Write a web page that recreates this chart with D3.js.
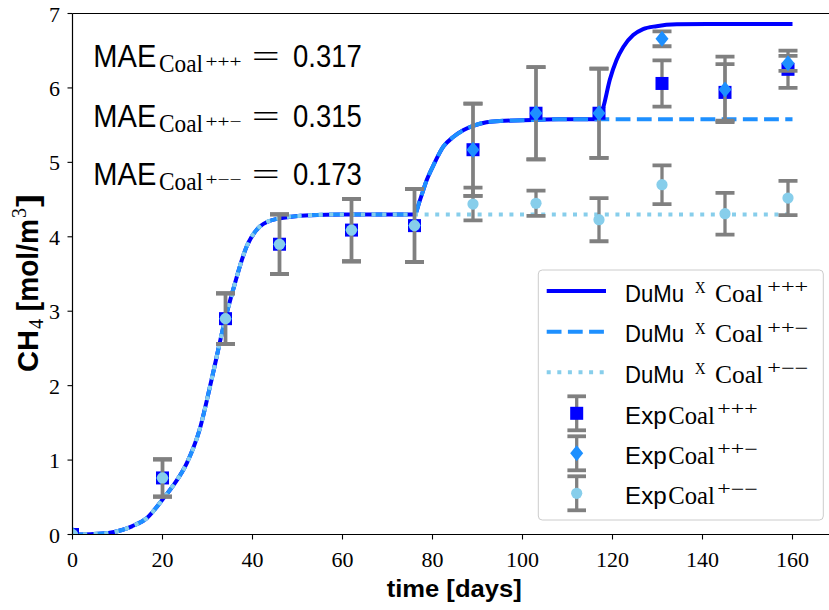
<!DOCTYPE html>
<html><head><meta charset="utf-8">
<script src="https://cdn.jsdelivr.net/npm/d3@7"></script>
<style>body{margin:0;background:#fff}svg{display:block}</style>
</head><body><svg id="c" width="829" height="610"></svg>
<script>
// ---------- data ----------
// simulated curve pieces [time (days), CH4 (mol/m3)]
const riseA = [[0,0],[4,0.005],[8,0.02],[11,0.06],[13.2,0.11],[16.5,0.22],[20,0.47],[22.4,0.66],[25.4,0.96],[28.2,1.40],[30.9,2.08],[34,2.91],[35.7,3.29],[38.7,3.87],[41.7,4.14],[45.4,4.24],[52.8,4.29],[60,4.30],[76,4.30]];
const riseB = [[77.2,4.49],[78.7,4.76],[80.2,4.96],[82.4,5.21],[84.6,5.34],[86.8,5.43],[89,5.49],[92,5.54],[95,5.555],[102.3,5.57],[108,5.58],[117,5.58]];
const riseC = [[118,5.75],[119.4,6.11],[120.9,6.375],[122.4,6.55],[124.6,6.71],[126.8,6.79],[129.8,6.83],[134.3,6.855],[141,6.86],[160,6.86]];
const endB = [[160,5.58]];
const endA = [[160,4.30]];

const expTime = [0,20,34,46,62,76,89,103,117,131,145,159];
const expPPP  = [0,0.76,2.90,3.90,4.09,4.15,5.17,5.66,5.66,6.06,5.94,6.25];
const errPPP  = [0,0.25,0.34,0.40,0.42,0.49,0.62,0.62,0.60,0.31,0.38,0.25];
const expPPM  = [0,0.76,2.90,3.90,4.09,4.15,5.17,5.66,5.66,6.66,5.98,6.33];
const errPPM  = [0,0.25,0.34,0.40,0.42,0.49,0.62,0.62,0.60,0.10,0.44,0.10];
const expPMM  = [0,0.76,2.90,3.90,4.09,4.15,4.44,4.45,4.23,4.70,4.31,4.52];
const errPMM  = [0,0.25,0.34,0.40,0.42,0.49,0.22,0.17,0.29,0.26,0.28,0.23];

const maeLabels = ["+++","++\u2212","+\u2212\u2212"];
const maeValues = ["0.317","0.315","0.173"];
const xTicks = [0,20,40,60,80,100,120,140,160];
const yTicks = [0,1,2,3,4,5,6,7];

const simPPP = riseA.concat(riseB, riseC);
const simPPM = riseA.concat(riseB, endB);
const simPMM = riseA.concat(endA);

// ---------- setup ----------
const SANS = "'Liberation Sans', Arial, sans-serif";
const SERIF = "'Liberation Serif', 'Times New Roman', serif";
const svg = d3.select('#c');
const L = 72.5, R = 828.5, T = 13.5, B = 534.5;
const x = d3.scaleLinear().domain([0,168]).range([L,R]);
const y = d3.scaleLinear().domain([0,7]).range([B,T]);

svg.append('defs').append('clipPath').attr('id','clip')
  .append('rect').attr('x',L).attr('y',T).attr('width',R-L).attr('height',B-T);

function rich(parent, pieces, x0, y0){
  let cx = x0;
  pieces.forEach(p => {
    const px = p.x !== undefined ? p.x : cx + (p.gap||0);
    const t = parent.append('text').attr('x',px).attr('y',y0+(p.dy||0)).text(p.t)
      .attr('font-family',p.f).attr('font-size',p.s).attr('font-weight',p.w||'normal').attr('fill','#000');
    if (p.len) t.attr('textLength',p.len).attr('lengthAdjust','spacingAndGlyphs');
    const len = p.len || t.node().getComputedTextLength();
    cx = px + len;
  });
  return cx - x0;
}

const plot = svg.append('g').attr('clip-path','url(#clip)');
const line = d3.line().x(d=>x(d[0])).y(d=>y(d[1])).curve(d3.curveMonotoneX);

const simSeries = [
  {d:simPPP, c:'#0000ff', dash:null},
  {d:simPPM, c:'#1e90ff', dash:'14.8,6.4'},
  {d:simPMM, c:'#87ceeb', dash:'4,6.6'}
];
simSeries.forEach(s => {
  plot.append('path').attr('d', line(s.d)).attr('fill','none').attr('stroke',s.c)
    .attr('stroke-width',4).attr('stroke-dasharray',s.dash);
});

function marker(g, type, cx, cy, color){
  if (type==='s') g.append('rect').attr('x',cx-6.5).attr('y',cy-6.5).attr('width',13).attr('height',13).attr('fill',color);
  else if (type==='d') g.append('path').attr('d',`M${cx},${cy-8}L${cx+6.5},${cy}L${cx},${cy+8}L${cx-6.5},${cy}Z`).attr('fill',color);
  else g.append('circle').attr('cx',cx).attr('cy',cy).attr('r',5.6).attr('fill',color);
}
function errbar(g, cx, y1, y2, hw){
  g.append('line').attr('x1',cx).attr('x2',cx).attr('y1',y1).attr('y2',y2).attr('stroke','#808080').attr('stroke-width',3.3);
  [y1,y2].forEach(yy => g.append('line').attr('x1',cx-hw).attr('x2',cx+hw).attr('y1',yy).attr('y2',yy).attr('stroke','#808080').attr('stroke-width',3.8));
}

const expSeries = [
  {v:expPPP, e:errPPP, m:'s', c:'#0000ff'},
  {v:expPPM, e:errPPM, m:'d', c:'#1e90ff'},
  {v:expPMM, e:errPMM, m:'o', c:'#87ceeb'}
];
expSeries.forEach(s => {
  const g = plot.append('g');
  expTime.forEach((t,i) => {
    if (s.e[i] > 0) errbar(g, x(t), y(s.v[i]-s.e[i]), y(s.v[i]+s.e[i]), 9.5);
    marker(g, s.m, x(t), y(s.v[i]), s.c);
  });
});

// ---------- axes ----------
const ax = svg.append('g');
ax.append('line').attr('x1',L).attr('x2',L).attr('y1',T).attr('y2',B).attr('stroke','#000').attr('stroke-width',1.2);
ax.append('line').attr('x1',L).attr('x2',R+1).attr('y1',B).attr('y2',B).attr('stroke','#000').attr('stroke-width',1.2);
ax.append('line').attr('x1',L).attr('x2',R+1).attr('y1',T).attr('y2',T).attr('stroke','#000').attr('stroke-width',1.2);
xTicks.forEach(t => {
  ax.append('line').attr('x1',x(t)).attr('x2',x(t)).attr('y1',B).attr('y2',B+5).attr('stroke','#000').attr('stroke-width',1.1);
  ax.append('text').attr('x',x(t)).attr('y',566.5).attr('text-anchor','middle')
    .attr('font-family',SERIF).attr('font-size',22).text(t);
});
yTicks.forEach(t => {
  ax.append('line').attr('x1',L-5).attr('x2',L).attr('y1',y(t)).attr('y2',y(t)).attr('stroke','#000').attr('stroke-width',1.1);
  ax.append('text').attr('x',60).attr('y',y(t)+8).attr('text-anchor','end')
    .attr('font-family',SERIF).attr('font-size',22).text(t);
});
// x label
rich(svg, [{t:'time [days]', f:SANS, s:24, w:'bold', x:386.7, len:135}], 0, 597);
// y label (rotated)
const yl = svg.append('g').attr('transform','translate(38.3,372) rotate(-90)');
rich(yl, [
  {t:'CH', f:SANS, s:29, w:'bold', x:0, len:42},
  {t:'4', f:SERIF, s:20, dy:5, gap:1, len:10},
  {t:'\u00a0[mol/m', f:SANS, s:29, w:'bold', gap:0, len:100},
  {t:'3', f:SERIF, s:20, dy:-12, gap:1, len:10},
  {t:']', f:SANS, s:29, w:'bold', gap:1, len:13}
], 0, 0);

// ---------- MAE annotations ----------
const maeBase = [66.7,126.7,185];
maeBase.forEach((b,i) => {
  rich(svg, [
    {t:'MAE', f:SANS, s:31, x:93.3, len:63},
    {t:'Coal', f:SERIF, s:25, x:159, dy:5, len:44},
    {t:maeLabels[i], f:SERIF, s:17, x:205.5, dy:0, len:36},
    {t:'=', f:SERIF, s:31, x:251.7, len:28},
    {t:maeValues[i], f:SANS, s:31, x:293, len:68.7}
  ], 0, b);
});

// ---------- legend ----------
const lg = svg.append('g');
lg.append('rect').attr('x',538.3).attr('y',270).attr('width',285).attr('height',250).attr('rx',4)
  .attr('fill','#fff').attr('fill-opacity',0.8).attr('stroke','#cccccc').attr('stroke-width',1);
const rowsY = [291,331.7,372.3,413.3,453.3,493.3];
simSeries.forEach((s,i) => {
  const cy = rowsY[i];
  lg.append('line').attr('x1',546.7).attr('x2',606).attr('y1',cy).attr('y2',cy)
    .attr('stroke',s.c).attr('stroke-width',4).attr('stroke-dasharray',s.dash);
  rich(lg, [
    {t:'DuMu', f:SANS, s:24, x:625, len:59},
    {t:'X', f:SERIF, s:17, x:695, dy:-8.4, len:10.5},
    {t:'Coal', f:SERIF, s:26, x:715, len:48},
    {t:maeLabels[i], f:SERIF, s:18, x:767.3, dy:-8.4, len:41}
  ], 0, cy+10.5);
});
expSeries.forEach((s,i) => {
  const cy = rowsY[i+3];
  errbar(lg, 576.7, cy-17, cy+17, 9.3);
  marker(lg, s.m, 576.7, cy, s.c);
  rich(lg, [
    {t:'Exp', f:SANS, s:24, x:625, len:41.7},
    {t:'Coal', f:SERIF, s:26, x:668.3, len:46.5},
    {t:maeLabels[i], f:SERIF, s:18, x:717.3, dy:-8.4, len:40.4}
  ], 0, cy+10.5);
});
</script></body></html>
